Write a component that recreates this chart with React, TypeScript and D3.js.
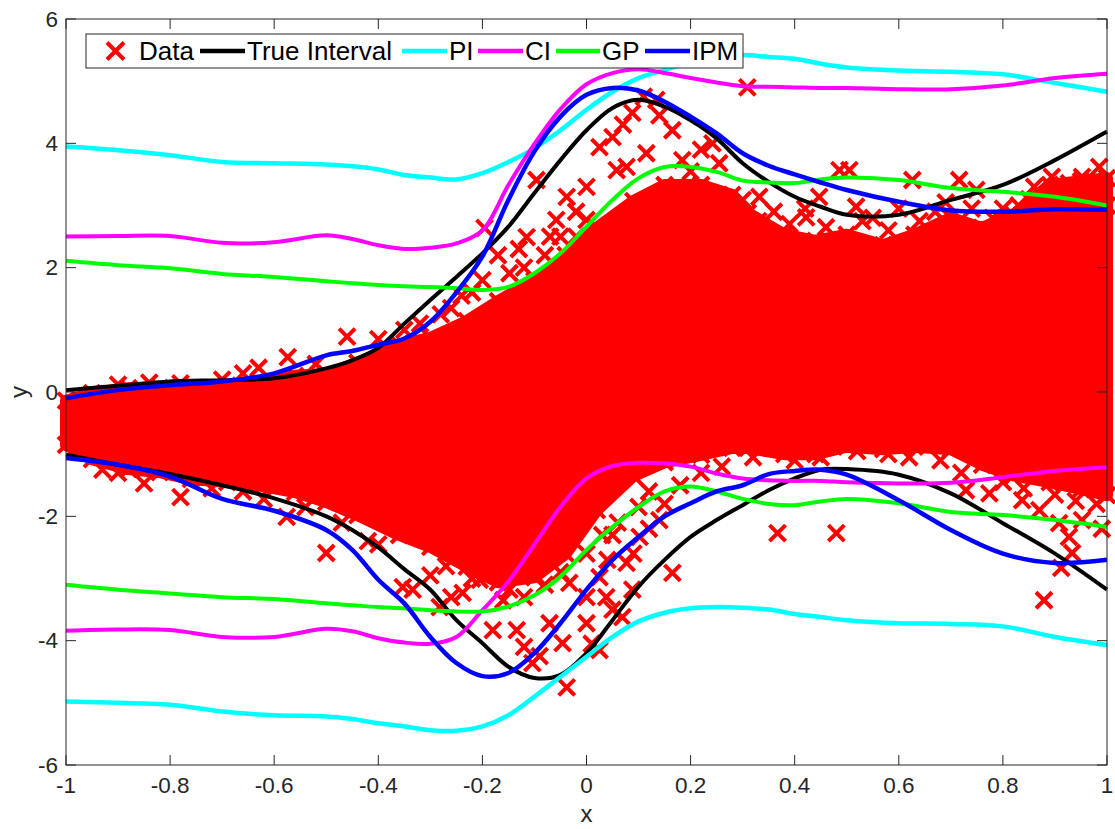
import React from 'react';
import * as d3 from 'd3';

// ---------- data ----------
const X = [-1, -0.9, -0.8, -0.7, -0.6, -0.5, -0.45, -0.4, -0.35, -0.3, -0.25, -0.2, -0.15, -0.1, -0.05, 0, 0.05, 0.1, 0.15, 0.2, 0.25, 0.3, 0.35, 0.4, 0.45, 0.5, 0.6, 0.7, 0.8, 0.9, 1];

const trueUpper = [0.03, 0.1, 0.17, 0.19, 0.22, 0.38, 0.51, 0.71, 1.1, 1.48, 1.85, 2.23, 2.66, 3.2, 3.73, 4.21, 4.57, 4.7, 4.59, 4.37, 4.08, 3.68, 3.38, 3.14, 2.98, 2.85, 2.85, 3.09, 3.33, 3.73, 4.19];
const trueLower = [-1.01, -1.17, -1.32, -1.5, -1.71, -2.0, -2.22, -2.5, -2.85, -3.18, -3.67, -4.04, -4.42, -4.6, -4.55, -4.2, -3.67, -3.13, -2.7, -2.33, -2.06, -1.82, -1.58, -1.39, -1.25, -1.24, -1.33, -1.63, -2.11, -2.6, -3.18];
const piUpper = [3.95, 3.89, 3.81, 3.7, 3.68, 3.66, 3.63, 3.58, 3.49, 3.45, 3.42, 3.52, 3.7, 3.92, 4.21, 4.54, 4.83, 5.05, 5.18, 5.3, 5.38, 5.42, 5.39, 5.36, 5.28, 5.22, 5.17, 5.15, 5.11, 4.97, 4.83];
const piLower = [-4.98, -5.0, -5.03, -5.14, -5.2, -5.22, -5.26, -5.33, -5.38, -5.44, -5.45, -5.38, -5.2, -4.9, -4.58, -4.26, -3.94, -3.69, -3.55, -3.48, -3.46, -3.47, -3.5, -3.57, -3.62, -3.67, -3.72, -3.73, -3.77, -3.94, -4.07];
const ciUpper = [2.5, 2.51, 2.51, 2.4, 2.41, 2.52, 2.46, 2.36, 2.3, 2.32, 2.39, 2.6, 3.33, 3.99, 4.55, 4.95, 5.13, 5.19, 5.13, 5.05, 4.98, 4.92, 4.91, 4.9, 4.89, 4.89, 4.87, 4.87, 4.93, 5.05, 5.12];
const ciLower = [-3.84, -3.82, -3.83, -3.94, -3.94, -3.81, -3.85, -3.96, -4.03, -4.05, -3.94, -3.51, -3.05, -2.45, -1.85, -1.39, -1.19, -1.14, -1.15, -1.2, -1.31, -1.39, -1.42, -1.43, -1.43, -1.45, -1.47, -1.46, -1.37, -1.27, -1.21];
const gpUpper = [2.11, 2.04, 1.99, 1.9, 1.85, 1.78, 1.75, 1.72, 1.7, 1.69, 1.67, 1.64, 1.69, 1.91, 2.23, 2.66, 3.09, 3.44, 3.62, 3.62, 3.54, 3.4, 3.37, 3.36, 3.42, 3.45, 3.41, 3.28, 3.22, 3.14, 3.0];
const gpLower = [-3.1, -3.18, -3.24, -3.3, -3.33, -3.4, -3.43, -3.46, -3.48, -3.51, -3.53, -3.53, -3.45, -3.27, -2.97, -2.54, -2.17, -1.85, -1.6, -1.52, -1.6, -1.72, -1.8, -1.82, -1.76, -1.72, -1.79, -1.93, -1.98, -2.06, -2.17];
const ipmUpper = [-0.1, 0.03, 0.11, 0.17, 0.3, 0.59, 0.66, 0.76, 0.86, 1.13, 1.6, 2.18, 3.09, 3.87, 4.43, 4.78, 4.89, 4.85, 4.67, 4.43, 4.16, 3.84, 3.64, 3.5, 3.37, 3.25, 3.06, 2.92, 2.9, 2.94, 2.93];
const ipmLower = [-1.06, -1.17, -1.36, -1.72, -1.91, -2.22, -2.54, -3.02, -3.4, -3.94, -4.36, -4.57, -4.52, -4.2, -3.72, -3.18, -2.7, -2.33, -2.0, -1.79, -1.6, -1.5, -1.32, -1.27, -1.25, -1.33, -1.74, -2.22, -2.6, -2.75, -2.7];

// dense data cloud: envelope of marker centres
const coreX = [-1, -0.95, -0.88, -0.82, -0.76, -0.69, -0.63, -0.56, -0.5, -0.44, -0.36, -0.3, -0.23, -0.17, -0.1, -0.04, 0.02, 0.09, 0.15, 0.22, 0.28, 0.31, 0.38, 0.44, 0.5, 0.57, 0.63, 0.7, 0.76, 0.82, 0.89, 0.95, 1.0];
const coreHigh = [-0.14, -0.02, 0.06, 0.06, 0.06, 0.1, 0.16, 0.26, 0.29, 0.47, 0.76, 0.87, 1.14, 1.46, 1.79, 2.2, 2.64, 3.07, 3.33, 3.33, 3.17, 2.88, 2.53, 2.43, 2.53, 2.36, 2.53, 2.8, 2.64, 2.85, 3.33, 3.39, 3.44];
const coreLow = [-0.85, -1.08, -1.24, -1.29, -1.4, -1.45, -1.5, -1.61, -1.77, -1.98, -2.3, -2.49, -2.81, -3.06, -2.98, -2.6, -1.9, -1.35, -1.13, -1.01, -0.9, -0.9, -1.0, -1.0, -0.88, -0.92, -0.88, -0.92, -1.17, -1.34, -1.45, -1.56, -1.66];

// scattered data points around the dense cloud
const outX = [-0.63, -0.574, -0.46, -0.28, -0.24, -0.196, -0.2, -0.17, -0.148, -0.13, -0.115, -0.096, -0.07, -0.058, -0.038, -0.02, 0, 0, 0.025, 0.05, 0.058, 0.07, 0.077, 0.088, 0.11, 0.115, 0.134, 0.14, 0.165, 0.184, 0.2, 0.22, 0.242, 0.255, 0.3, 0.309, 0.332, 0.36, 0.422, 0.447, 0.486, 0.505, 0.518, 0.55, 0.626, 0.67, 0.716, 0.749, 0.8, 0.85, 0.894, 0.902, 0.927, 0.952, 0.97, 0.985, 1.0,
  -0.85, -0.78, -0.576, -0.5, -0.42, -0.353, -0.334, -0.3, -0.282, -0.26, -0.238, -0.205, -0.18, -0.148, -0.134, -0.12, -0.104, -0.09, -0.071, -0.046, -0.038, -0.033, 0, 0, 0.01, 0.025, 0.025, 0.038, 0.05, 0.069, 0.077, 0.088, 0.102, 0.14, 0.165, 0.367, 0.48, 0.729, 0.774, 0.837, 0.87, 0.879, 0.908, 0.912, 0.927, 0.933, 0.952, 0.99,
  0.33, 0.39, 0.42, 0.46, 0.53, 0.58, 0.6, 0.64, 0.69, 0.74, 0.78, 0.83, 0.86, 0.88, 0.92, 0.96, 0.99,
  0.32, 0.4, 0.45, 0.52, 0.58, 0.62, 0.68, 0.72, 0.8, 0.84, 0.9, 0.94, 0.98,
  -0.93, -0.9, -0.72, -0.66, -0.62, -0.54, -0.47, -0.4,
  -0.9, -0.84, -0.78, -0.7, -0.66, -0.52, -0.4, -0.35, -0.32,
  -0.26, -0.22, -0.12, -0.08, -0.05, -0.02,
  -0.27, -0.22, -0.16, -0.12, -0.08, -0.05, 0.05, 0.1, 0.12, 0.18, 0.22, 0.26,
  0.03, 0.06, 0.09, 0.12, 0.0, 0.04, 0.15];
const outY = [0.39, 0.56, 0.89, 1.25, 1.55, 2.64, 1.8, 2.2, 1.91, 2.3, 2.49, 3.41, 2.5, 2.77, 3.14, 2.9, 3.3, 2.77, 3.94, 4.1, 3.57, 4.3, 3.62, 4.49, 4.75, 3.84, 4.7, 4.45, 4.21, 3.73, 3.55, 3.9, 4.0, 3.68, 3.09, 4.9, 3.14, 2.9, 2.81, 3.14, 3.57, 3.57, 2.98, 2.8, 3.41, 2.9, 3.41, 3.25, 2.95, 3.1, 3.46, 3.3, 3.36, 3.46, 3.2, 3.62, 3.0,
  -1.47, -1.69, -2.01, -2.59, -2.4, -3.14, -3.18, -2.95, -3.46, -3.3, -3.23, -3.02, -3.83, -3.18, -3.83, -4.1, -4.36, -4.25, -3.72, -4.04, -4.75, -3.07, -3.72, -3.3, -4.05, -4.15, -2.98, -3.3, -3.5, -3.62, -2.75, -3.18, -2.33, -2.06, -2.91, -2.27, -2.27, -1.58, -1.63, -1.74, -1.9, -3.35, -2.11, -2.83, -2.33, -2.59, -2.06, -2.2,
  2.75, 2.7, 2.95, 2.65, 2.75, 2.6, 2.95, 2.75, 3.05, 2.95, 2.8, 3.0, 3.3, 2.9, 3.1, 3.05, 3.3,
  -1.05, -1.1, -1.05, -0.95, -1.0, -1.05, -1.1, -1.3, -1.45, -1.55, -1.65, -1.75, -1.8,
  -1.25, -1.3, -1.55, -1.6, -1.72, -1.85, -2.1, -2.45,
  0.12, 0.15, 0.14, 0.2, 0.3, 0.45, 0.85, 1.0, 1.1,
  1.35, 1.6, 2.0, 2.2, 2.5, 2.5,
  -2.8, -3.0, -3.35, -3.3, -3.1, -2.9, -2.3, -1.85, -1.6, -1.5, -1.3, -1.2,
  -2.3, -2.1, -2.6, -2.2, -2.6, -2.7, -1.8];

const xTicks = [-1, -0.8, -0.6, -0.4, -0.2, 0, 0.2, 0.4, 0.6, 0.8, 1];
const xTickLabels = ['-1', '-0.8', '-0.6', '-0.4', '-0.2', '0', '0.2', '0.4', '0.6', '0.8', '1'];
const yTicks = [-6, -4, -2, 0, 2, 4, 6];
const yTickLabels = ['-6', '-4', '-2', '0', '2', '4', '6'];

const seriesNames = ['True Interval', 'PI', 'CI', 'GP', 'IPM'];
const seriesColors = ['#000000', '#00ffff', '#ff00ff', '#00ff00', '#0000ff'];
const seriesUpper = [trueUpper, piUpper, ciUpper, gpUpper, ipmUpper];
const seriesLower = [trueLower, piLower, ciLower, gpLower, ipmLower];

// ---------- layout ----------
const W = 1115, H = 829;
const L = 66, R = 1107, T = 19, B = 765;
const FONT = '"Liberation Sans", Arial, Helvetica, sans-serif';
const AX = '#262626';

const xMark = (h: number) => `M${-h},${-h}L${h},${h}M${-h},${h}L${h},${-h}`;

export default function App() {
  const x = d3.scaleLinear().domain([-1, 1]).range([L, R]);
  const y = d3.scaleLinear().domain([-6, 6]).range([B, T]);

  const line = d3.line<number>()
    .x((_, i) => x(X[i]))
    .y(d => y(d))
    .curve(d3.curveCatmullRom.alpha(0.5));

  const core = d3.area<number>()
    .x(d => x(d))
    .y0((_, i) => y(coreLow[i]))
    .y1((_, i) => y(coreHigh[i]));

  const mk = xMark(8);

  // legend layout (pixel positions of the reference legend)
  const legLines = [[200, 245, 247], [402, 447, 449], [478, 523, 525], [556, 600, 602], [645, 690, 692]];
  const legY = 51;

  return (
    <svg width={W} height={H} style={{ position: 'absolute', left: 0, top: 0, background: '#fff' }} fontFamily={FONT}>
      <rect x={0} y={0} width={W} height={H} fill="#fff" />
      {/* data cloud */}
      <path d={core(coreX) || ''} fill="#ff0000" stroke="#ff0000" strokeWidth={12} strokeLinejoin="round" />
      <g stroke="#ff0000" strokeWidth={4} fill="none">
        {coreX.map((cx, i) => (
          <path key={'h' + i} d={mk} transform={`translate(${x(cx)},${y(coreHigh[i])})`} />
        ))}
        {coreX.map((cx, i) => (
          <path key={'l' + i} d={mk} transform={`translate(${x(cx)},${y(coreLow[i])})`} />
        ))}
        {outX.map((ox, i) => (
          <path key={'o' + i} d={mk} transform={`translate(${x(ox)},${y(outY[i])})`} />
        ))}
      </g>
      {/* interval curves */}
      {seriesNames.map((n, k) => (
        <g key={n} fill="none" stroke={seriesColors[k]} strokeWidth={k === 1 || k === 4 ? 4.5 : 4}>
          <path d={line(seriesUpper[k]) || ''} />
          <path d={line(seriesLower[k]) || ''} />
        </g>
      ))}
      {/* axes box */}
      <rect x={L} y={T} width={R - L} height={B - T} fill="none" stroke={AX} strokeWidth={1} />
      <g stroke={AX} strokeWidth={1}>
        {xTicks.map(t => (
          <g key={'xt' + t}>
            <line x1={x(t)} x2={x(t)} y1={B} y2={B - 10} />
            <line x1={x(t)} x2={x(t)} y1={T} y2={T + 10} />
          </g>
        ))}
        {yTicks.map(t => (
          <g key={'yt' + t}>
            <line x1={L} x2={L + 10} y1={y(t)} y2={y(t)} />
            <line x1={R} x2={R - 10} y1={y(t)} y2={y(t)} />
          </g>
        ))}
      </g>
      <g fill={AX} fontSize={22.5}>
        {xTicks.map((t, i) => (
          <text key={'xl' + t} x={x(t)} y={793} textAnchor="middle">{xTickLabels[i]}</text>
        ))}
        {yTicks.map((t, i) => (
          <text key={'yl' + t} x={58} y={y(t)} textAnchor="end" dominantBaseline="central">{yTickLabels[i]}</text>
        ))}
        <text x={(L + R) / 2} y={822} textAnchor="middle" fontSize={24}>x</text>
        <text transform={`translate(27,${(T + B) / 2}) rotate(-90)`} textAnchor="middle" fontSize={24}>y</text>
      </g>
      {/* legend */}
      <g>
        <rect x={86} y={34} width={657} height={34} fill="#fff" stroke={AX} strokeWidth={1} />
        <path d={xMark(8.5)} transform={`translate(115.5,${legY})`} stroke="#ff0000" strokeWidth={4} fill="none" />
        <text x={139} y={60} fontSize={26} fill="#000">Data</text>
        {seriesNames.map((n, k) => (
          <g key={'lg' + n}>
            <line x1={legLines[k][0]} x2={legLines[k][1]} y1={legY} y2={legY} stroke={seriesColors[k]} strokeWidth={4.5} />
            <text x={legLines[k][2]} y={60} fontSize={26} fill="#000">{n}</text>
          </g>
        ))}
      </g>
    </svg>
  );
}
